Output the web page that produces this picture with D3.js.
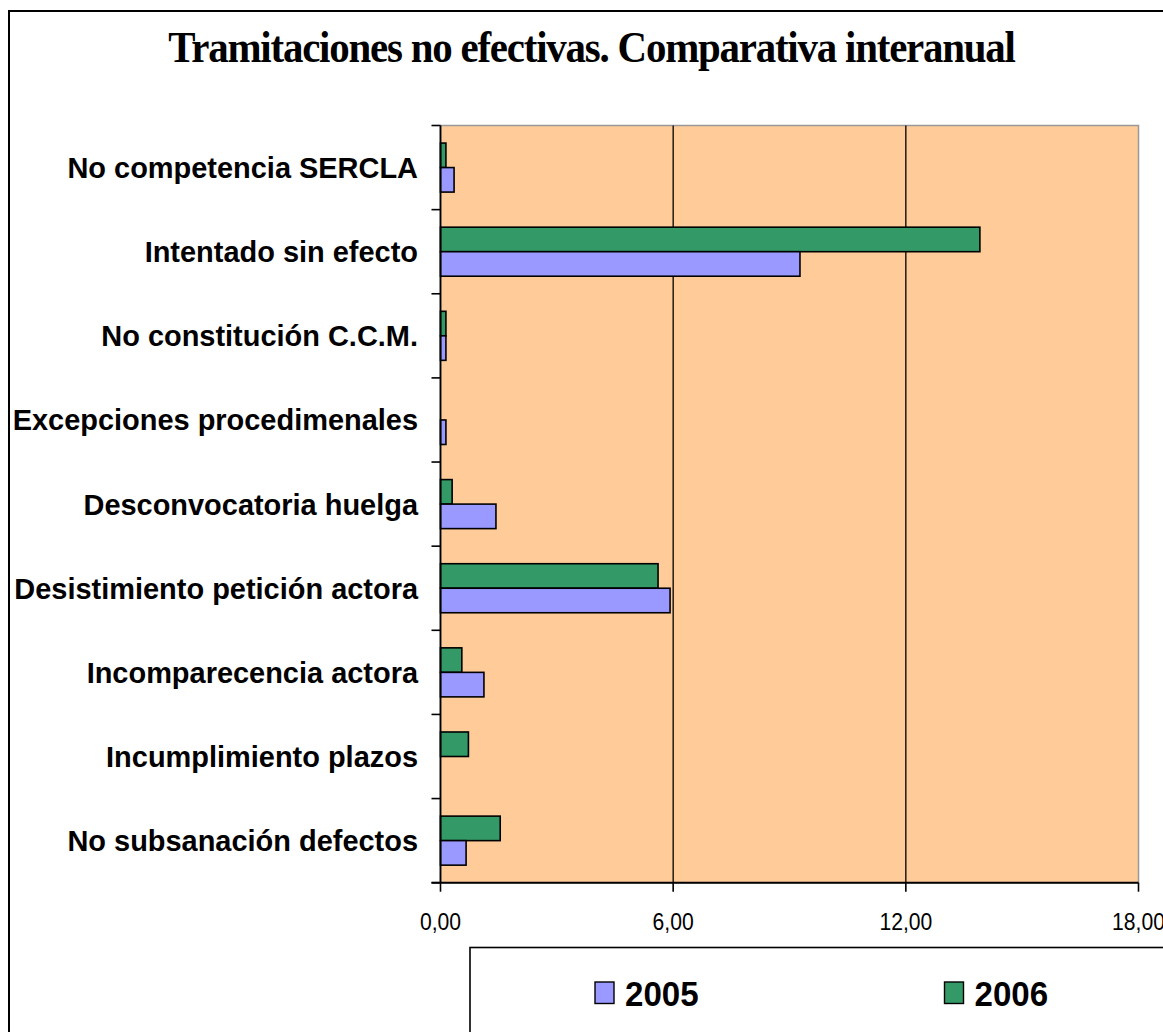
<!DOCTYPE html>
<html>
<head>
<meta charset="utf-8">
<script src="https://cdn.jsdelivr.net/npm/d3@7"></script>
<style>
  html, body { margin: 0; padding: 0; background: #fff; }
  svg { display: block; }
</style>
</head>
<body>
<svg id="chart" width="1163" height="1032"></svg>
<script>
const categories = [
  "No competencia SERCLA",
  "Intentado sin efecto",
  "No constitución C.C.M.",
  "Excepciones procedimenales",
  "Desconvocatoria huelga",
  "Desistimiento petición actora",
  "Incomparecencia actora",
  "Incumplimiento plazos",
  "No subsanación defectos"
];
const seriesNames = ["2005", "2006"];
const values2005 = [0.35, 9.27, 0.14, 0.14, 1.43, 5.92, 1.12, 0, 0.66];
const values2006 = [0.14, 13.91, 0.14, 0, 0.30, 5.61, 0.55, 0.72, 1.54];
const xTicks = [0, 6, 12, 18];
const titleText = "Tramitaciones no efectivas. Comparativa interanual";

const colors = { "2005": "#9999FF", "2006": "#339966" };

const svg = d3.select("#chart");

// outer chart frame (extends beyond the visible page)
svg.append("rect")
  .attr("x", 9).attr("y", 11)
  .attr("width", 1300).attr("height", 1200)
  .attr("fill", "#fff").attr("stroke", "#000").attr("stroke-width", 2);

// title
svg.append("g")
  .attr("transform", "translate(591.5,62) scale(0.93,1)")
  .append("text")
  .attr("text-anchor", "middle")
  .attr("font-family", "'Liberation Serif','Times New Roman',serif")
  .attr("font-weight", "bold")
  .attr("font-size", 44)
  .attr("letter-spacing", -1.3)
  .attr("fill", "#000")
  .text(titleText);

const plot = { left: 440.5, right: 1138.5, top: 125.5, bottom: 882.7 };

const x = d3.scaleLinear().domain([0, 18]).range([plot.left, plot.right]);
const y = d3.scaleBand().domain(categories).range([plot.top, plot.bottom]).padding(0);
const ySub = d3.scaleBand().domain(["2006", "2005"]).range([0, y.bandwidth()])
  .paddingInner(0).paddingOuter(0.716);

// plot background
svg.append("rect")
  .attr("x", plot.left).attr("y", plot.top)
  .attr("width", plot.right - plot.left).attr("height", plot.bottom - plot.top)
  .attr("fill", "#FFCC99")
  .attr("stroke", "#999").attr("stroke-width", 1.5);

// gridlines
svg.append("g")
  .selectAll("line")
  .data(xTicks.filter(t => t > 0 && t < 18))
  .join("line")
  .attr("x1", d => x(d)).attr("x2", d => x(d))
  .attr("y1", plot.top).attr("y2", plot.bottom)
  .attr("stroke", "#000").attr("stroke-width", 1.3);

// bars
const rows = categories.map((c, i) => ({ cat: c, "2005": values2005[i], "2006": values2006[i] }));
const barG = svg.append("g");
rows.forEach(r => {
  ["2006", "2005"].forEach(s => {
    if (r[s] <= 0) return;
    barG.append("rect")
      .attr("x", x(0))
      .attr("y", y(r.cat) + ySub(s))
      .attr("width", x(r[s]) - x(0))
      .attr("height", ySub.bandwidth())
      .attr("fill", colors[s])
      .attr("stroke", "#000")
      .attr("stroke-width", 1.6);
  });
});

// y axis (category)
const yAxisG = svg.append("g");
yAxisG.append("line")
  .attr("x1", plot.left).attr("x2", plot.left)
  .attr("y1", plot.top).attr("y2", plot.bottom)
  .attr("stroke", "#000").attr("stroke-width", 1.8);
const catEdges = categories.map(c => y(c)).concat([plot.bottom]);
yAxisG.selectAll("line.tick")
  .data(catEdges)
  .join("line")
  .attr("class", "tick")
  .attr("x1", plot.left - 9).attr("x2", plot.left)
  .attr("y1", d => d).attr("y2", d => d)
  .attr("stroke", "#000").attr("stroke-width", 1.6);

yAxisG.selectAll("g.lab")
  .data(categories)
  .join("g")
  .attr("class", "lab")
  .attr("transform", d => `translate(418,${y(d) + y.bandwidth() / 2 + 10.5}) scale(0.965,1)`)
  .append("text")
  .attr("text-anchor", "end")
  .attr("font-family", "'Liberation Sans',Arial,sans-serif")
  .attr("font-weight", "bold")
  .attr("font-size", 30)
  .attr("fill", "#000")
  .text(d => d);

// x axis
const xAxisG = svg.append("g");
xAxisG.append("line")
  .attr("x1", plot.left - 9).attr("x2", plot.right)
  .attr("y1", plot.bottom).attr("y2", plot.bottom)
  .attr("stroke", "#000").attr("stroke-width", 2);
xAxisG.selectAll("line.tick")
  .data(xTicks)
  .join("line")
  .attr("class", "tick")
  .attr("x1", d => x(d)).attr("x2", d => x(d))
  .attr("y1", plot.bottom).attr("y2", plot.bottom + 9)
  .attr("stroke", "#000").attr("stroke-width", 1.6);
const fmt = v => d3.format(".2f")(v).replace(".", ",");
xAxisG.selectAll("g.xl")
  .data(xTicks)
  .join("g")
  .attr("class", "xl")
  .attr("transform", d => `translate(${x(d)},929.5) scale(0.92,1)`)
  .append("text")
  .attr("text-anchor", "middle")
  .attr("font-family", "'Liberation Sans',Arial,sans-serif")
  .attr("font-size", 23)
  .attr("fill", "#000")
  .text(d => fmt(d));

// legend
const leg = svg.append("g");
leg.append("rect")
  .attr("x", 470).attr("y", 947.5)
  .attr("width", 800).attr("height", 200)
  .attr("fill", "#fff").attr("stroke", "#000").attr("stroke-width", 1.6);
const legPos = { "2005": 595, "2006": 944.5 };
seriesNames.forEach(s => {
  leg.append("rect")
    .attr("x", legPos[s]).attr("y", 982)
    .attr("width", 19).attr("height", 21.5)
    .attr("fill", colors[s]).attr("stroke", "#000").attr("stroke-width", 1.4);
  leg.append("g")
    .attr("transform", `translate(${legPos[s] + 30},1006) scale(0.92,1)`)
    .append("text")
    .attr("font-family", "'Liberation Sans',Arial,sans-serif")
    .attr("font-weight", "bold")
    .attr("font-size", 36)
    .attr("fill", "#000")
    .text(s);
});
</script>
</body>
</html>
